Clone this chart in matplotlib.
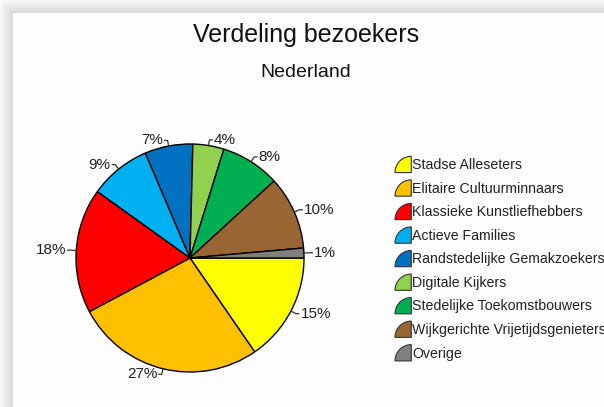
import numpy as np
import matplotlib
matplotlib.use("Agg")
import matplotlib.pyplot as plt
from matplotlib.patches import Wedge, Rectangle
from matplotlib.legend_handler import HandlerPatch

plt.rcParams['font.family'] = ['Liberation Sans', 'DejaVu Sans']

categories = ["Stadse Alleseters", "Elitaire Cultuurminnaars", "Klassieke Kunstliefhebbers",
              "Actieve Families", "Randstedelijke Gemakzoekers", "Digitale Kijkers",
              "Stedelijke Toekomstbouwers", "Wijkgerichte Vrijetijdsgenieters", "Overige"]
values = [15.4, 26.8, 17.7, 8.7, 6.8, 4.4, 8.4, 10.4, 1.4]
colors = ["#FFFF00", "#FFC000", "#FF0000", "#00B0F0", "#0070C0",
          "#92D050", "#00B050", "#996633", "#808080"]
title = "Verdeling bezoekers"
subtitle = "Nederland"

W, H = 604, 407
fig = plt.figure(figsize=(W / 100, H / 100), dpi=100)

# background with shadow strip at top/left
bg = fig.add_axes([0, 0, 1, 1], zorder=-10)
yy, xx = np.mgrid[0:H, 0:W]
edge = 13
d = np.where(xx < edge, edge - xx, 0)
d2 = np.where(yy < edge, edge - yy, 0)
dist = np.maximum(d, d2).astype(float)
shade = np.where(dist > 0, 0.84 + 0.14 * (dist / edge), 0.995)
img = np.dstack([shade, shade, shade])
bg.imshow(img, extent=[0, W, H, 0], aspect='auto', interpolation='bilinear')
bg.set_axis_off()

# pie axes: center (190, 258) px, radius 114 px
R = 114.0
cx, cy = 190.0, 258.0
lim = 1.3
half = lim * R
ax = fig.add_axes([(cx - half) / W, (H - cy - half) / H, 2 * half / W, 2 * half / H])
wedges, _ = ax.pie(values, colors=colors, startangle=0, counterclock=False,
                   wedgeprops=dict(edgecolor='black', linewidth=1.0), radius=1.0)
ax.set_xlim(-lim, lim)
ax.set_ylim(-lim, lim)
ax.set_aspect('equal')
ax.set_axis_off()

total = sum(values)
for w, v in zip(wedges, values):
    th = np.deg2rad((w.theta1 + w.theta2) / 2)
    c, s = np.cos(th), np.sin(th)
    sign = 1 if c >= 0 else -1
    p0 = (1.0 * c, 1.0 * s)
    p1 = (1.05 * c, 1.05 * s)
    p2 = (p1[0] + sign * 0.03, p1[1])
    ax.plot([p0[0], p1[0], p2[0]], [p0[1], p1[1], p2[1]], color='#333333', lw=0.9,
            solid_capstyle='butt')
    pct = 100 * v / total
    ax.text(p2[0] + sign * 0.01, p2[1] + 0.0, f"{pct:.0f}%",
            ha='left' if sign > 0 else 'right', va='center', fontsize=11, color='#222222')

fig.text(306 / W, 1 - 42 / H, title, ha='center', va='baseline', fontsize=18, color='#111111')
fig.text(306 / W, 1 - 77 / H, subtitle, ha='center', va='baseline', fontsize=14, color='#111111')


class QuarterHandler(HandlerPatch):
    def create_artists(self, legend, orig_handle, xdescent, ydescent, width, height, fontsize, trans):
        r = min(width, height * 1.3)
        x0 = -xdescent + width
        y0 = -ydescent - 0.15 * height
        p = Wedge((x0, y0), r, 90, 180, facecolor=orig_handle.get_facecolor(),
                  edgecolor='#333333', linewidth=0.8)
        p.set_transform(trans)
        return [p]


handles = [Rectangle((0, 0), 1, 1, facecolor=c) for c in colors]
leg = fig.legend(handles, categories, loc='upper left', bbox_to_anchor=(395 / W, 1 - 158 / H),
                 frameon=False, fontsize=10.2, labelspacing=0.66, handlelength=1.15,
                 handleheight=1.0, handletextpad=0.08, borderpad=0, borderaxespad=0,
                 handler_map={Rectangle: QuarterHandler()})
for t in leg.get_texts():
    t.set_color('#222222')

fig.savefig("out.png", dpi=100)
